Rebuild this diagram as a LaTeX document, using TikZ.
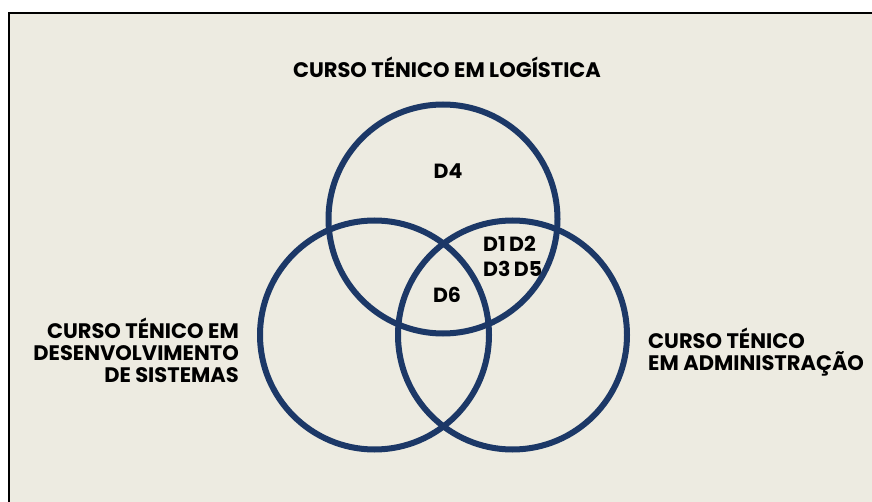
\documentclass[tikz,border=0pt]{standalone}
\usepackage{fontspec}
\setmainfont{Poppins}
\definecolor{vennBlue}{HTML}{1C3867}
\definecolor{paperBeige}{HTML}{EDEBE1}
\begin{document}
\begin{tikzpicture}[x=1pt, y=-1pt,
    setStyle/.style={circle, draw=vennBlue, line width=6pt, minimum size=229pt, inner sep=0pt},
    labelStyle/.style={inner sep=0pt, font=\fontsize{21}{22}\selectfont\bfseries},
    itemStyle/.style={inner sep=0pt, font=\fontsize{20.5}{25}\selectfont\bfseries}]
    \useasboundingbox (0, 0) rectangle (872, 502);
    \fill[white] (0, 0) rectangle (872, 502);
    % frame runs off the page on the right and at the bottom
    \fill[paperBeige] (9, 13) rectangle (872, 502);
    \draw[line width=2.5pt] (9, 502) -- (9, 13) -- (872, 13);

    \node[setStyle] (logistica) at (443, 219) {};
    \node[setStyle] (sistemas)  at (374.5, 335) {};
    \node[setStyle] (admin)     at (512.5, 335) {};

    \node[labelStyle, anchor=base] (logistica_L) at (447, 78) {CURSO TÉNICO EM LOGÍSTICA};
    \node[labelStyle, anchor=base east, align=right] (sistemas_L) at (239, 382) {CURSO TÉNICO EM\\DESENVOLVIMENTO\\DE SISTEMAS};
    \node[labelStyle, anchor=base west, align=left] (admin_L) at (648, 370) {CURSO TÉNICO\\EM ADMINISTRAÇÃO};

    \node[itemStyle, anchor=base] (D4) at (448, 179) {D4};
    \node[itemStyle, anchor=base west, align=left] (D1235) at (483, 277) {D1\,D2\\D3\,D5};
    \node[itemStyle, anchor=base] (D6) at (447, 302) {D6};
\end{tikzpicture}
\end{document}
